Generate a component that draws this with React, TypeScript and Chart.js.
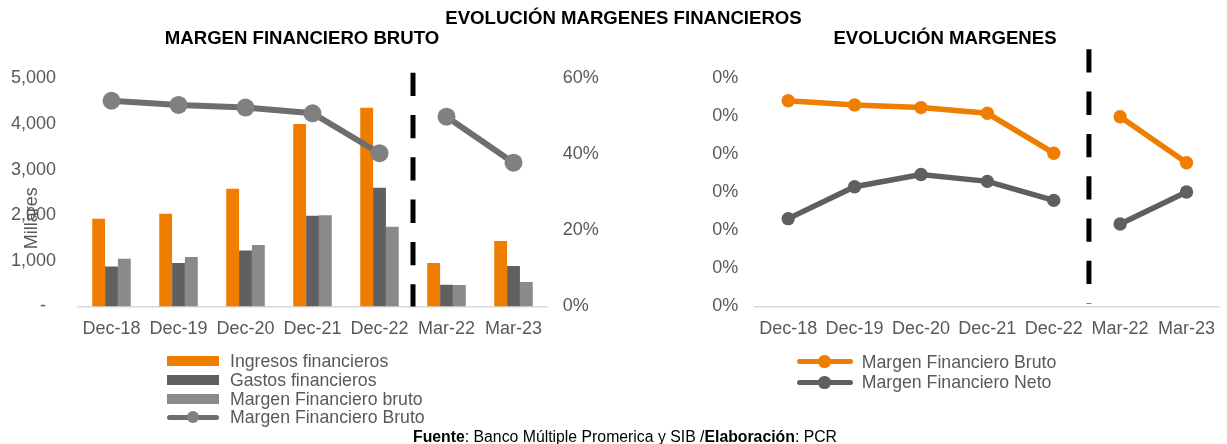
import React, { useEffect, useRef } from 'react';
import { Chart, registerables } from 'chart.js';

Chart.register(...registerables);

// ---------------- DATA ----------------
const categories = ['Dec-18', 'Dec-19', 'Dec-20', 'Dec-21', 'Dec-22', 'Mar-22', 'Mar-23'];
// Left chart (Millares)
const ingresosFinancieros = [1921, 2031, 2578, 4000, 4357, 952, 1433];
const gastosFinancieros = [877, 952, 1228, 1987, 2600, 477, 886];
const margenFinancieroBrutoMonto = [1046, 1083, 1346, 2002, 1746, 470, 536];
// Percent series
const margenFinancieroBrutoPct = [54.1, 53.0, 52.3, 50.8, 40.3, 49.9, 37.8];
const margenFinancieroNetoPct = [23.1, 31.5, 34.7, 32.9, 27.9, 21.7, 30.1];
// Tick labels of the right chart (as printed in the source)
const rightChartTickLabels = ['0%', '0%', '0%', '0%', '0%', '0%', '0%'];
const breakAfterCategory = 'Dec-22';

const mainTitle = 'EVOLUCIÓN MARGENES FINANCIEROS';
const leftTitle = 'MARGEN FINANCIERO BRUTO';
const rightTitle = 'EVOLUCIÓN MARGENES';
const leftAxisTitle = 'Millares';

// ---------------- STYLE ----------------
const FONT = "'Liberation Sans', Arial, Helvetica, sans-serif";
const ORANGE = '#EF7D00';
const DARK = '#606060';
const LIGHT = '#8A8A8A';
const LINE_GRAY = '#6E6E6E';
const POINT_GRAY = '#808080';
const NETO_GRAY = '#5F5F5F';
const TEXT_GRAY = '#595959';
const AXIS_GRAY = '#D9D9D9';

Chart.defaults.font.family = FONT;

const breakIndex = categories.indexOf(breakAfterCategory);
const gapSegment = {
  borderColor: (ctx: any) => (ctx.p0DataIndex === breakIndex ? 'rgba(0,0,0,0)' : undefined),
};

const separatorPlugin = {
  id: 'separator',
  afterDraw(chart: any, _args: any, opts: any) {
    const x = chart.scales.x;
    const px = (x.getPixelForValue(breakIndex) + x.getPixelForValue(breakIndex + 1)) / 2 + (opts.shift || 0);
    const { ctx, chartArea } = chart;
    ctx.save();
    ctx.strokeStyle = '#000000';
    ctx.lineWidth = 5;
    ctx.setLineDash([23.3, 19]);
    ctx.beginPath();
    ctx.moveTo(px, chartArea.top - opts.above);
    ctx.lineTo(px, chartArea.bottom - opts.shortBy);
    ctx.stroke();
    ctx.restore();
  },
};

const axisTitlePlugin = {
  id: 'sideTitle',
  afterDraw(chart: any, _args: any, opts: any) {
    if (!opts || !opts.text) return;
    const { ctx, chartArea } = chart;
    ctx.save();
    ctx.translate(chartArea.left - 41.5, chartArea.top + 140);
    ctx.rotate(-Math.PI / 2);
    ctx.font = `18px ${FONT}`;
    ctx.fillStyle = TEXT_GRAY;
    ctx.textAlign = 'center';
    ctx.textBaseline = 'alphabetic';
    ctx.fillText(opts.text, 0, 0);
    ctx.restore();
  },
};

const tickFont = { size: 18, family: FONT };

export default function App() {
  const leftRef = useRef<HTMLCanvasElement>(null);
  const rightRef = useRef<HTMLCanvasElement>(null);

  useEffect(() => {
    const left = new Chart(leftRef.current as HTMLCanvasElement, {
      type: 'bar',
      data: {
        labels: categories,
        datasets: [
          { type: 'bar', label: 'Ingresos financieros', data: ingresosFinancieros, backgroundColor: ORANGE, order: 1, yAxisID: 'y' },
          { type: 'bar', label: 'Gastos financieros', data: gastosFinancieros, backgroundColor: DARK, order: 1, yAxisID: 'y' },
          { type: 'bar', label: 'Margen Financiero bruto', data: margenFinancieroBrutoMonto, backgroundColor: LIGHT, order: 1, yAxisID: 'y' },
          {
            type: 'line', label: 'Margen Financiero Bruto', data: margenFinancieroBrutoPct, yAxisID: 'y1', order: 0,
            borderColor: LINE_GRAY, borderWidth: 6, tension: 0,
            pointRadius: 9, pointBackgroundColor: POINT_GRAY, pointBorderColor: POINT_GRAY, pointBorderWidth: 0,
            segment: gapSegment,
          } as any,
        ],
      },
      options: {
        responsive: false,
        animation: false,
        devicePixelRatio: 1,
        datasets: { bar: { barPercentage: 1, categoryPercentage: 0.575 } },
        layout: { padding: { top: 78.3, left: 0, right: 0, bottom: 0 } },
        plugins: {
          legend: { display: false },
          tooltip: { enabled: false },
          separator: { above: 5.6, shortBy: 0 },
          sideTitle: { text: leftAxisTitle },
        } as any,
        scales: {
          x: {
            offset: true,
            grid: { display: false, drawTicks: false },
            border: { display: true, color: AXIS_GRAY, width: 1.5 },
            ticks: { font: tickFont, color: TEXT_GRAY, padding: 11.5, maxRotation: 0, autoSkip: false },
            afterFit: (s: any) => { s.height = 137.5; },
          },
          y: {
            position: 'left', min: 0, max: 5000,
            grid: { display: false, drawTicks: false },
            border: { display: false },
            ticks: {
              stepSize: 1000, font: tickFont, color: TEXT_GRAY, padding: 22,
              callback: (v: any) => (Number(v) === 0 ? '-  ' : Number(v).toLocaleString('en-US')),
            },
            afterFit: (s: any) => { s.width = 78; },
          },
          y1: {
            position: 'right', min: 0, max: 60,
            grid: { display: false, drawTicks: false },
            border: { display: false },
            ticks: { stepSize: 20, font: tickFont, color: TEXT_GRAY, padding: 15.7, callback: (v: any) => `${v}%` },
            afterFit: (s: any) => { s.width = 63; },
          },
        },
      },
      plugins: [separatorPlugin, axisTitlePlugin],
    } as any);

    const right = new Chart(rightRef.current as HTMLCanvasElement, {
      type: 'line',
      data: {
        labels: categories,
        datasets: [
          {
            label: 'Margen Financiero Bruto', data: margenFinancieroBrutoPct,
            borderColor: ORANGE, borderWidth: 5.5, tension: 0,
            pointRadius: 6.7, pointBackgroundColor: ORANGE, pointBorderColor: ORANGE, pointBorderWidth: 0,
            segment: gapSegment,
          } as any,
          {
            label: 'Margen Financiero Neto', data: margenFinancieroNetoPct,
            borderColor: NETO_GRAY, borderWidth: 5.5, tension: 0,
            pointRadius: 6.7, pointBackgroundColor: NETO_GRAY, pointBorderColor: NETO_GRAY, pointBorderWidth: 0,
            segment: gapSegment,
          } as any,
        ],
      },
      options: {
        responsive: false,
        animation: false,
        devicePixelRatio: 1,
        layout: { padding: { top: 78.3, left: 0, right: 4, bottom: 0 } },
        plugins: {
          legend: { display: false },
          tooltip: { enabled: false },
          separator: { above: 29, shortBy: 3, shift: 2 },
          sideTitle: { text: '' },
        } as any,
        scales: {
          x: {
            offset: true,
            grid: { display: false, drawTicks: false },
            border: { display: true, color: AXIS_GRAY, width: 1.5 },
            ticks: { font: tickFont, color: TEXT_GRAY, padding: 11.5, maxRotation: 0, autoSkip: false },
            afterFit: (s: any) => { s.height = 137.5; },
          },
          y: {
            min: 0, max: 60,
            grid: { display: false, drawTicks: false },
            border: { display: false },
            ticks: {
              stepSize: 10, font: tickFont, color: TEXT_GRAY, padding: 16.7,
              callback: (_v: any, i: number) => rightChartTickLabels[i],
            },
            afterFit: (s: any) => { s.width = 65; },
          },
        },
      },
      plugins: [separatorPlugin, axisTitlePlugin],
    } as any);

    return () => {
      left.destroy();
      right.destroy();
    };
  }, []);

  const abs = (extra: React.CSSProperties): React.CSSProperties => ({ position: 'absolute', whiteSpace: 'nowrap', ...extra });
  const titleStyle = (cx: number, cy: number, size: number): React.CSSProperties =>
    abs({ left: cx, top: cy - size / 2, transform: 'translateX(-50%)', fontSize: size, lineHeight: `${size}px`, fontWeight: 'bold', color: '#000', fontFamily: FONT });

  const leftLegend = [
    { label: 'Ingresos financieros', color: ORANGE, kind: 'box' },
    { label: 'Gastos financieros', color: DARK, kind: 'box' },
    { label: 'Margen Financiero bruto', color: LIGHT, kind: 'box' },
    { label: 'Margen Financiero Bruto', color: LINE_GRAY, point: POINT_GRAY, kind: 'line' },
  ];
  const rightLegend = [
    { label: 'Margen Financiero Bruto', color: ORANGE, point: ORANGE, kind: 'line' },
    { label: 'Margen Financiero Neto', color: NETO_GRAY, point: NETO_GRAY, kind: 'line' },
  ];

  const legendRow = (item: any, cy: number, symLeft: number, symWidth: number, textLeft: number, lineW: number, dot: number, key: string) => (
    <div key={key}>
      {item.kind === 'box' ? (
        <div style={abs({ left: symLeft, top: cy - 5, width: symWidth, height: 10, background: item.color })} />
      ) : (
        <>
          <div style={abs({ left: symLeft, top: cy - lineW / 2, width: symWidth, height: lineW, background: item.color, borderRadius: lineW / 2 })} />
          <div style={abs({ left: symLeft + symWidth / 2 - dot / 2, top: cy - dot / 2, width: dot, height: dot, background: item.point, borderRadius: '50%' })} />
        </>
      )}
      <div style={abs({ left: textLeft, top: cy - 10, height: 20, lineHeight: '20px', fontSize: 17.7, color: TEXT_GRAY, fontFamily: FONT })}>{item.label}</div>
    </div>
  );

  return (
    <div style={{ position: 'fixed', left: 0, top: 0, width: 1227, height: 444, background: '#fff', overflow: 'hidden', fontFamily: FONT }}>
      <canvas ref={leftRef} width={610} height={444} style={{ position: 'absolute', left: 0, top: 0, width: 610, height: 444 }} />
      <canvas ref={rightRef} width={537} height={444} style={{ position: 'absolute', left: 690, top: 0, width: 537, height: 444 }} />
      <div style={titleStyle(623.5, 18, 18.6)}>{mainTitle}</div>
      <div style={titleStyle(302, 38.3, 18.6)}>{leftTitle}</div>
      <div style={titleStyle(945, 38.3, 18.6)}>{rightTitle}</div>
      {leftLegend.map((it, i) => legendRow(it, 361 + i * 18.8, 166.7, 52.3, 230, 5.7, 12, `l${i}`))}
      {rightLegend.map((it, i) => legendRow(it, 361.7 + i * 20.6, 796.7, 56, 861.7, 5.3, 12.7, `r${i}`))}
      <div style={abs({ left: 625, top: 437 - 8, transform: 'translateX(-50%)', fontSize: 15.8, lineHeight: '16px', color: '#000', fontFamily: FONT })}>
        <b>Fuente</b>: Banco Múltiple Promerica y SIB /<b>Elaboración</b>: PCR
      </div>
    </div>
  );
}
